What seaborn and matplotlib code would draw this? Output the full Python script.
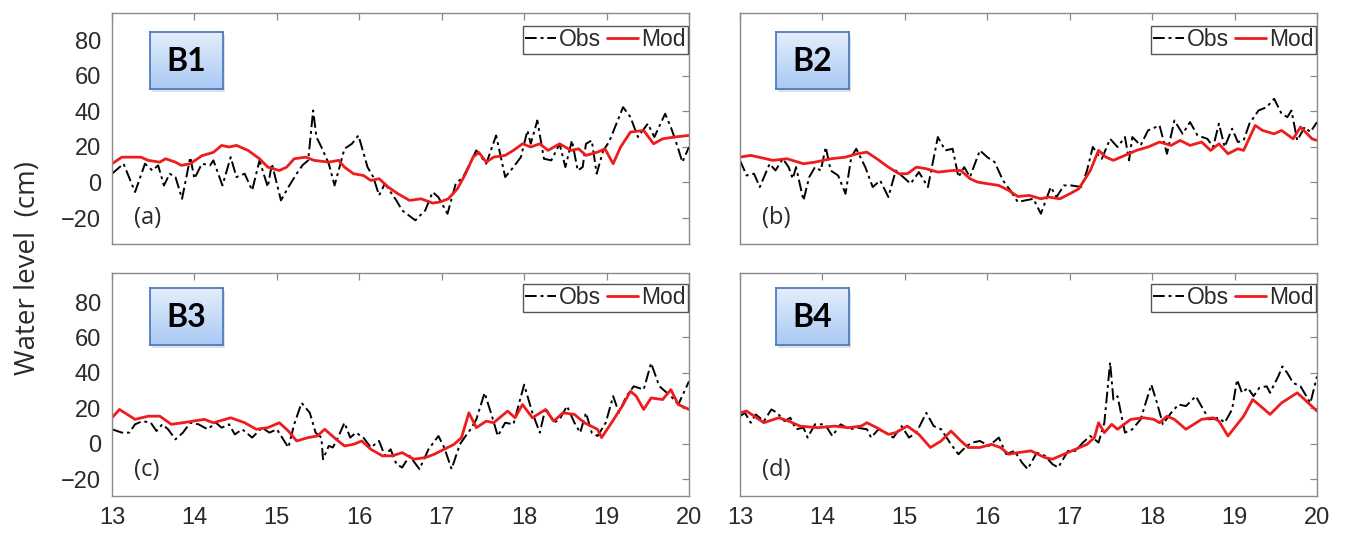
import numpy as np
import pandas as pd
import matplotlib
matplotlib.use("Agg")
import matplotlib.pyplot as plt
import seaborn as sns

# ---------------- data ----------------
panel_labels = ["(a)", "(b)", "(c)", "(d)"]
station_names = ["B1", "B2", "B3", "B4"]
xtick_values = [13, 14, 15, 16, 17, 18, 19, 20]
ytick_values = [-20, 0, 20, 40, 60, 80]

obs_t_a = [13.00, 13.14, 13.28, 13.40, 13.49, 13.56, 13.63, 13.70, 13.77, 13.85, 13.95, 14.00, 14.09, 14.19, 14.23,
           14.34, 14.44, 14.51, 14.61, 14.70, 14.79, 14.89, 14.94, 15.05, 15.14, 15.24, 15.31, 15.38, 15.44, 15.48,
           15.54, 15.63, 15.70, 15.82, 15.91, 15.99, 16.10, 16.17, 16.24, 16.31, 16.45, 16.52, 16.68, 16.80, 16.89,
           16.96, 17.07, 17.17, 17.26, 17.42, 17.54, 17.66, 17.77, 17.87, 17.96, 18.04, 18.08, 18.16, 18.24, 18.33,
           18.43, 18.50, 18.58, 18.65, 18.71, 18.75, 18.82, 18.88, 18.96, 19.03, 19.20, 19.29, 19.38, 19.50, 19.58,
           19.71, 19.78, 19.85, 19.92, 20.00]
obs_a = [4.9, 10.5, -5.4, 10.5, 6.7, 9.6, -1.7, 4.9, 3.0, -9.2, 14.2, 2.1, 10.5, 9.6, 12.4,
         -1.7, 14.2, 3.0, 4.9, -4.5, 12.4, -2.6, 10.5, -10.1, -2.6, 4.9, 9.6, 12.4, 40.4, 25.5,
         19.9, 10.5, -1.7, 18.9, 21.7, 26.4, 8.6, 3.0, -7.3, -0.7, -10.1, -15.7, -21.3, -15.7, -5.4,
         -8.3, -17.6, -0.7, 3.0, 18.0, 10.5, 26.4, 3.0, 8.6, 14.2, 29.2, 21.7, 34.8, 13.3, 12.4,
         21.7, 8.6, 23.6, 6.7, 8.6, 21.7, 23.6, 4.9, 18.0, 22.7, 42.3, 36.7, 25.5, 33.0, 25.5,
         38.6, 31.1, 21.7, 11.4, 19.9]
mod_t_a = [13.00, 13.12, 13.35, 13.44, 13.58, 13.65, 13.77, 13.84, 13.95, 14.09, 14.23, 14.33, 14.42, 14.51, 14.65,
           14.79, 14.89, 15.03, 15.12, 15.21, 15.35, 15.45, 15.63, 15.75, 15.82, 15.93, 16.05, 16.14, 16.24, 16.35,
           16.47, 16.61, 16.75, 16.89, 16.98, 17.08, 17.19, 17.29, 17.38, 17.45, 17.54, 17.63, 17.77, 17.87, 17.98,
           18.08, 18.19, 18.29, 18.43, 18.57, 18.66, 18.75, 18.89, 18.98, 19.08, 19.17, 19.29, 19.45, 19.57, 19.68,
           19.82, 20.00]
mod_a = [10.5, 14.2, 14.2, 12.4, 11.4, 13.3, 11.4, 9.6, 10.5, 15.0, 16.9, 20.8, 19.9, 20.8, 18.0,
         13.3, 8.6, 6.7, 8.6, 13.3, 14.2, 12.4, 11.4, 12.4, 8.6, 4.9, 3.9, 1.1, 2.1, -2.6,
         -6.4, -10.1, -9.2, -11.6, -11.0, -9.2, -3.6, 4.9, 14.2, 16.9, 11.4, 14.2, 15.2, 18.0, 21.7,
         19.9, 21.7, 18.0, 21.7, 18.0, 18.9, 15.2, 17.0, 18.9, 10.5, 19.9, 28.3, 29.2, 21.7, 24.5,
         25.5, 26.4]

obs_t_b = [13.00, 13.08, 13.17, 13.24, 13.36, 13.43, 13.52, 13.59, 13.64, 13.68, 13.77, 13.84, 13.91, 13.98, 14.04,
           14.10, 14.19, 14.28, 14.35, 14.41, 14.52, 14.61, 14.70, 14.80, 14.89, 14.98, 15.07, 15.17, 15.28, 15.40,
           15.49, 15.58, 15.65, 15.72, 15.79, 15.91, 16.00, 16.09, 16.19, 16.28, 16.37, 16.46, 16.56, 16.65, 16.77,
           16.84, 16.93, 17.02, 17.14, 17.21, 17.28, 17.35, 17.39, 17.49, 17.58, 17.67, 17.72, 17.76, 17.86, 17.95,
           18.09, 18.18, 18.27, 18.37, 18.46, 18.55, 18.67, 18.74, 18.81, 18.88, 18.97, 19.04, 19.11, 19.18, 19.29,
           19.39, 19.48, 19.57, 19.64, 19.69, 19.76, 19.85, 19.92, 20.00]
obs_b = [12.4, 3.9, 4.9, -2.6, 10.5, 6.7, 13.3, 8.6, 2.1, 8.6, -10.1, 3.0, 8.6, 6.7, 19.9,
         6.7, 3.9, -6.4, 14.2, 18.9, 8.6, -2.6, 1.1, -8.2, 6.7, 3.0, -0.7, 5.8, -2.6, 25.5,
         18.0, 18.9, 3.0, 8.6, 3.0, 18.0, 14.2, 11.4, 1.1, -4.5, -11.0, -10.1, -9.2, -17.6, -2.6,
         -8.2, -1.7, -1.7, -2.6, 6.7, 19.9, 15.2, 13.3, 24.5, 19.9, 25.5, 12.4, 25.5, 20.8, 29.2,
         32.0, 16.1, 34.8, 27.3, 33.9, 26.4, 24.5, 19.9, 33.0, 19.9, 30.2, 22.7, 23.6, 33.0, 40.4,
         42.3, 47.0, 38.6, 36.7, 40.4, 23.6, 31.1, 28.3, 33.9]
mod_t_b = [13.00, 13.13, 13.40, 13.57, 13.77, 13.91, 14.10, 14.28, 14.42, 14.54, 14.66, 14.80, 14.93, 15.03, 15.14,
           15.26, 15.40, 15.58, 15.68, 15.79, 15.88, 16.00, 16.14, 16.26, 16.37, 16.51, 16.65, 16.74, 16.88, 17.00,
           17.11, 17.25, 17.35, 17.44, 17.53, 17.67, 17.81, 17.95, 18.09, 18.23, 18.34, 18.46, 18.60, 18.71, 18.81,
           18.92, 19.04, 19.11, 19.25, 19.34, 19.48, 19.57, 19.71, 19.80, 19.94, 20.00]
mod_b = [14.2, 15.2, 12.4, 13.3, 10.5, 11.4, 13.3, 14.2, 16.1, 17.0, 13.3, 8.6, 4.9, 4.9, 8.6,
         7.7, 5.8, 6.7, 6.7, 2.1, 0.2, -0.7, -1.7, -4.5, -7.9, -7.3, -9.2, -8.2, -9.2, -6.4,
         -3.6, 6.7, 18.0, 14.2, 12.4, 15.2, 18.0, 19.9, 22.7, 20.8, 23.6, 20.8, 22.7, 18.0, 21.7,
         16.1, 18.9, 18.0, 32.0, 29.2, 27.3, 29.2, 24.5, 31.1, 24.5, 23.6]

obs_t_c = [13.00, 13.12, 13.21, 13.28, 13.37, 13.47, 13.54, 13.61, 13.68, 13.77, 13.86, 13.95, 14.05, 14.16, 14.26,
           14.33, 14.42, 14.49, 14.58, 14.70, 14.82, 14.91, 15.00, 15.14, 15.21, 15.30, 15.40, 15.47, 15.54, 15.56,
           15.63, 15.68, 15.75, 15.82, 15.89, 15.96, 16.05, 16.14, 16.24, 16.31, 16.38, 16.45, 16.52, 16.61, 16.73,
           16.84, 16.96, 17.03, 17.12, 17.22, 17.29, 17.35, 17.42, 17.52, 17.61, 17.68, 17.77, 17.87, 17.94, 18.00,
           18.10, 18.19, 18.26, 18.36, 18.43, 18.52, 18.61, 18.68, 18.75, 18.82, 18.89, 18.99, 19.08, 19.15, 19.24,
           19.33, 19.45, 19.54, 19.64, 19.78, 19.87, 20.00]
obs_c = [8.1, 6.2, 6.2, 10.9, 12.7, 11.8, 7.1, 10.9, 8.1, 2.4, 6.2, 11.8, 10.9, 8.1, 11.8,
         9.0, 10.9, 5.2, 8.1, 3.4, 9.0, 6.2, 8.1, -2.2, 10.9, 23.0, 17.4, 6.2, 3.4, -8.8,
         -1.3, -2.2, 4.3, 11.8, 3.4, 6.2, 3.4, -2.2, 1.5, -6.9, -3.2, -11.6, -13.5, -6.9, -14.4,
         -3.2, 4.3, -2.2, -14.4, -0.4, 4.3, 8.1, 13.7, 28.7, 15.5, 4.3, 11.8, 10.9, 23.0, 33.3,
         17.4, 6.2, 20.2, 11.8, 13.7, 21.2, 11.8, 6.2, 17.4, 6.2, 4.3, 11.8, 26.8, 17.4, 26.8,
         32.4, 30.5, 45.5, 32.4, 26.8, 22.1, 35.2]
mod_t_c = [13.00, 13.09, 13.28, 13.44, 13.58, 13.72, 13.86, 14.12, 14.23, 14.44, 14.61, 14.75, 14.89, 15.03, 15.14,
           15.24, 15.38, 15.49, 15.58, 15.72, 15.82, 15.93, 16.03, 16.14, 16.28, 16.40, 16.52, 16.66, 16.80, 16.91,
           17.03, 17.15, 17.24, 17.33, 17.42, 17.54, 17.63, 17.80, 17.89, 17.98, 18.10, 18.26, 18.36, 18.47, 18.61,
           18.73, 18.89, 18.94, 19.06, 19.19, 19.29, 19.36, 19.45, 19.54, 19.68, 19.78, 19.87, 20.00]
mod_c = [14.6, 19.3, 13.7, 15.5, 15.5, 10.9, 11.8, 13.7, 11.8, 14.6, 11.8, 8.1, 9.0, 11.8, 7.1,
         1.5, 3.4, 4.3, 8.1, 2.4, -1.3, -0.4, 1.5, -3.2, -6.9, -6.9, -5.1, -8.8, -7.9, -6.0,
         -3.2, -0.4, 3.4, 17.4, 9.0, 12.7, 11.8, 18.4, 14.6, 22.1, 14.6, 19.3, 12.7, 17.4, 16.5,
         11.8, 8.1, 3.4, 11.8, 21.2, 29.6, 26.8, 19.3, 25.8, 24.9, 30.5, 22.1, 19.3]

obs_t_d = [13.00, 13.06, 13.13, 13.19, 13.29, 13.38, 13.45, 13.54, 13.61, 13.68, 13.77, 13.82, 13.91, 14.03, 14.12,
           14.22, 14.33, 14.42, 14.54, 14.59, 14.68, 14.77, 14.86, 14.96, 15.05, 15.14, 15.26, 15.35, 15.44, 15.56,
           15.65, 15.75, 15.82, 15.91, 16.02, 16.14, 16.23, 16.33, 16.42, 16.49, 16.60, 16.70, 16.79, 16.86, 16.98,
           17.07, 17.16, 17.25, 17.35, 17.42, 17.49, 17.53, 17.58, 17.67, 17.76, 17.86, 17.99, 18.06, 18.13, 18.23,
           18.32, 18.41, 18.53, 18.62, 18.69, 18.81, 18.88, 18.97, 19.03, 19.09, 19.16, 19.23, 19.30, 19.39, 19.43,
           19.53, 19.58, 19.64, 19.71, 19.80, 19.92, 20.00]
obs_d = [15.5, 17.4, 11.8, 16.5, 12.7, 19.3, 17.4, 12.7, 14.6, 8.1, 9.0, 3.4, 10.9, 10.9, 4.3,
         10.9, 8.1, 9.0, 8.1, 3.4, 8.1, 6.2, 3.4, 9.9, 3.4, 6.2, 17.4, 9.9, 8.1, -0.4,
         -6.0, -1.3, 0.6, 1.5, -1.3, 3.4, -6.0, -4.1, -10.7, -14.4, -5.1, -6.9, -11.6, -13.5, -4.1,
         -4.1, 0.6, 4.3, 0.6, 11.8, 45.9, 24.9, 26.8, 6.2, 8.1, 13.7, 33.3, 22.9, 10.9, 17.4,
         22.1, 21.2, 26.8, 19.3, 13.7, 14.6, 11.8, 19.3, 36.1, 28.7, 31.5, 26.8, 31.5, 32.4, 28.7,
         38.0, 43.6, 39.9, 34.3, 32.4, 22.9, 38.0]
mod_t_d = [13.00, 13.08, 13.29, 13.47, 13.59, 13.73, 13.94, 14.15, 14.31, 14.47, 14.54, 14.66, 14.80, 14.89, 15.03,
           15.17, 15.31, 15.44, 15.56, 15.68, 15.77, 15.91, 16.05, 16.16, 16.26, 16.37, 16.53, 16.70, 16.79, 16.93,
           17.07, 17.21, 17.30, 17.35, 17.42, 17.51, 17.58, 17.74, 17.90, 18.02, 18.09, 18.18, 18.27, 18.41, 18.60,
           18.74, 18.81, 18.92, 19.11, 19.22, 19.34, 19.43, 19.57, 19.76, 19.85, 20.00]
mod_d = [17.4, 18.4, 11.8, 14.6, 12.7, 9.9, 9.0, 9.9, 9.0, 9.9, 11.8, 9.0, 5.2, 6.2, 9.9,
         5.2, -2.2, 1.5, 7.1, 1.5, -2.2, -2.2, -0.4, -2.2, -6.0, -5.1, -4.1, -7.9, -8.8, -6.0,
         -3.2, -0.4, 3.4, 11.8, 6.2, 10.9, 8.1, 13.7, 14.6, 13.7, 11.8, 15.5, 13.7, 8.1, 13.7,
         14.6, 12.7, 4.3, 15.5, 24.9, 20.2, 16.5, 23.0, 28.7, 24.9, 18.4]

obs_times = [obs_t_a, obs_t_b, obs_t_c, obs_t_d]
obs_vals = [obs_a, obs_b, obs_c, obs_d]
mod_times = [mod_t_a, mod_t_b, mod_t_c, mod_t_d]
mod_vals = [mod_a, mod_b, mod_c, mod_d]

# ---------------- style ----------------
sns.set_style("white")
plt.rcParams["font.family"] = ["Liberation Sans", "DejaVu Sans"]

W, H = 1345, 543
fig = plt.figure(figsize=(W / 100, H / 100), dpi=100)

def frac_rect(x0, y0, x1, y1):
    return [x0 / W, 1 - y1 / H, (x1 - x0) / W, (y1 - y0) / H]

rects = [frac_rect(112, 13, 689, 244), frac_rect(740, 13, 1317, 244),
         frac_rect(112, 273, 689, 496), frac_rect(740, 273, 1317, 496)]
ylims = [(-34.6, 95.2), (-34.6, 95.2), (-29.6, 96.4), (-29.6, 96.4)]

frame_col = "#8a8a8a"
text_col = "#2a2a2a"

for i in range(4):
    ax = fig.add_axes(rects[i])
    obs_df = pd.DataFrame({"t": obs_times[i], "v": obs_vals[i]})
    mod_df = pd.DataFrame({"t": mod_times[i], "v": mod_vals[i]})
    sns.lineplot(data=obs_df, x="t", y="v", ax=ax, color="black", lw=1.4,
                 dashes=False, sort=False, estimator=None, label="Obs")
    ax.lines[-1].set_dashes([6, 2, 1.5, 2])
    sns.lineplot(data=mod_df, x="t", y="v", ax=ax, color="#ee1c1c", lw=2.0,
                 sort=False, estimator=None, label="Mod")
    ax.set_xlim(13, 20)
    ax.set_ylim(*ylims[i])
    ax.set_xticks(xtick_values)
    ax.set_yticks(ytick_values)
    ax.set_xlabel("")
    ax.set_ylabel("")
    for s in ax.spines.values():
        s.set_color(frame_col)
        s.set_linewidth(1.0)
    ax.tick_params(direction="in", length=5, width=0.9, color=frame_col,
                   top=True, right=True, labelsize=17, labelcolor=text_col, pad=8)
    if i < 2:
        ax.tick_params(labelbottom=False)
    if i % 2 == 1:
        ax.tick_params(labelleft=False)
    else:
        ax.set_yticklabels(["\u221220" if v == -20 else str(v) for v in ytick_values])

    # legend
    ax_h_px = rects[i][3] * H
    ax_w_px = rects[i][2] * W
    top_off = 13 if i < 2 else 11
    leg = ax.legend(loc="upper right", ncol=2, fontsize=16.5,
                    bbox_to_anchor=(1 - 1.5 / ax_w_px, 1 - top_off / ax_h_px),
                    borderaxespad=0, frameon=True, fancybox=False, framealpha=1,
                    edgecolor="#555555", borderpad=0.1, handlelength=1.35,
                    handletextpad=0.12, columnspacing=0.25, labelspacing=0.2)
    leg.get_frame().set_linewidth(1.0)
    for t in leg.get_texts():
        t.set_color(text_col)

    # panel letter
    ax.text(22 / ax_w_px, 26 / ax_h_px, panel_labels[i], transform=ax.transAxes,
            fontsize=17, family=["Open Sans", "DejaVu Sans"], color=text_col,
            ha="left", va="center")

    # station box with gradient
    bx0 = rects[i][0] * W + (38 if i % 2 == 0 else 36)
    by0 = (13 if i < 2 else 273) + (19 if i < 2 else 15)
    bw, bh = 73, 57
    shadow = fig.add_axes(frac_rect(bx0 + 2, by0 + 3, bx0 + bw + 2, by0 + bh + 3))
    shadow.set_facecolor("#c8ccd4")
    shadow.set_xticks([]); shadow.set_yticks([])
    for s in shadow.spines.values():
        s.set_visible(False)
    shadow.patch.set_alpha(0.6)
    bax = fig.add_axes(frac_rect(bx0, by0, bx0 + bw, by0 + bh))
    grad = np.linspace(0, 1, 64).reshape(-1, 1)
    cmap = matplotlib.colors.LinearSegmentedColormap.from_list("bx", ["#e4eefc", "#a9c9f4"])
    bax.imshow(grad, aspect="auto", cmap=cmap, extent=[0, 1, 0, 1], origin="upper")
    bax.set_xticks([]); bax.set_yticks([])
    for s in bax.spines.values():
        s.set_color("#4f7cbc")
        s.set_linewidth(1.3)
    bax.text(0.5, 0.48, station_names[i], transform=bax.transAxes, ha="center", va="center",
             fontsize=23, fontweight="bold", family=["Lato", "DejaVu Sans"], color="black")

fig.text(28 / W, 1 - 268 / H, "Water level  (cm)", rotation=90, ha="center", va="center",
         fontsize=20, family=["Open Sans", "DejaVu Sans"], color=text_col)

fig.savefig("out.png", dpi=100, facecolor="white")
